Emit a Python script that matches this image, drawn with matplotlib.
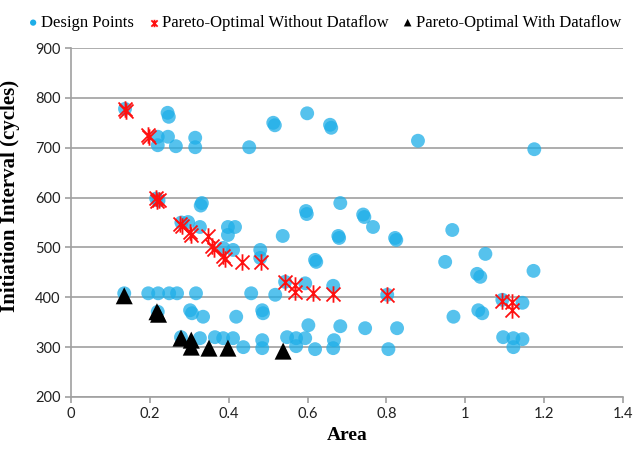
import matplotlib
matplotlib.use("Agg")
import matplotlib.pyplot as plt
from matplotlib.path import Path
import numpy as np

# Design points (Area, Initiation Interval)
design_x = [0.137, 0.245, 0.248, 0.220, 0.220, 0.246, 0.266, 0.315, 0.315, 0.452, 0.513, 0.517,
            0.599, 0.657, 0.660, 0.880, 1.175,
            0.216, 0.222, 0.332, 0.329, 0.596, 0.598, 0.683, 0.741, 0.744, 0.766, 0.967,
            0.537, 0.678, 0.680, 0.822, 0.825, 0.280, 0.297, 0.327, 0.398, 0.416, 0.398,
            0.386, 0.411, 0.480, 0.480, 0.619, 0.622, 0.949, 1.051, 1.030, 1.038, 1.173,
            0.135, 0.196, 0.221, 0.249, 0.269, 0.317, 0.457, 0.518, 0.543, 0.594, 0.665,
            0.802, 1.094, 1.145, 0.302, 0.307, 0.335, 0.419, 0.485, 0.487, 0.220, 0.970,
            1.033, 1.043,
            0.279, 0.327, 0.365, 0.386, 0.411, 0.437, 0.485, 0.485, 0.548, 0.571, 0.594,
            0.571, 0.619, 0.665, 0.667, 0.602, 0.683, 0.746, 0.827, 0.805, 1.096, 1.122,
            1.145, 1.122]
design_y = [778, 770, 762, 722, 705, 722, 703, 720, 701, 701, 750, 745,
            769, 746, 740, 714, 697,
            598, 594, 589, 584, 573, 567, 589, 566, 561, 541, 535,
            523, 523, 519, 519, 515, 550, 551, 541, 541, 541, 525,
            499, 495, 495, 479, 475, 471, 471, 487, 447, 441, 453,
            408, 408, 408, 408, 408, 408, 408, 405, 431, 428, 423,
            405, 395, 389, 374, 368, 361, 361, 374, 368, 371, 361,
            374, 368,
            320, 318, 320, 318, 318, 300, 314, 298, 320, 318, 318,
            302, 296, 298, 314, 344, 342, 338, 338, 296, 320, 318,
            316, 300]

# Pareto-optimal without dataflow
pnd_x = [0.137, 0.140, 0.195, 0.197, 0.216, 0.218, 0.222, 0.277, 0.281, 0.302, 0.305,
         0.348, 0.358, 0.362, 0.386, 0.390, 0.434, 0.482, 0.543, 0.569, 0.569, 0.614,
         0.665, 0.802, 1.094, 1.119, 1.119]
pnd_y = [778, 773, 726, 722, 600, 594, 596, 547, 543, 531, 525,
         523, 502, 496, 482, 477, 471, 471, 430, 425, 411, 408,
         407, 404, 393, 390, 374]

# Pareto-optimal with dataflow
pd_x = [0.135, 0.218, 0.222, 0.279, 0.305, 0.305, 0.350, 0.398, 0.538]
pd_y = [403, 371, 366, 318, 314, 300, 298, 298, 292]

x_ticks = [0, 0.2, 0.4, 0.6, 0.8, 1.0, 1.2, 1.4]
x_tick_labels = ["0", "0.2", "0.4", "0.6", "0.8", "1", "1.2", "1.4"]
y_ticks = [200, 300, 400, 500, 600, 700, 800, 900]

star = Path([(-0.85, -0.85), (0.85, 0.85), (-0.85, 0.85), (0.85, -0.85), (0, -1), (0, 1)],
            [Path.MOVETO, Path.LINETO, Path.MOVETO, Path.LINETO, Path.MOVETO, Path.LINETO])

fig = plt.figure(figsize=(6.35, 4.53), dpi=100)
ax = fig.add_axes([71/635, 1 - 397/453, (623 - 71)/635, (397 - 48)/453])

ax.scatter(design_x, design_y, s=100, color="#1eaee8", alpha=0.75, edgecolors="none",
           label="Design Points", zorder=2)
ax.scatter(pnd_x, pnd_y, s=140, marker=star, color="#ff1010", linewidths=1.3,
           label="Pareto-Optimal Without Dataflow", zorder=3)
ax.scatter(pd_x, pd_y, s=150, marker="^", color="black", edgecolors="none",
           label="Pareto-Optimal With Dataflow", zorder=4)

ax.set_xlim(0, 1.4)
ax.set_ylim(200, 900)
ax.set_xticks(x_ticks)
ax.set_xticklabels(x_tick_labels)
ax.set_yticks(y_ticks)
ax.grid(axis="y", color="#a0a0a0", linewidth=1.2)
ax.set_axisbelow(True)
for s in ["top", "right"]:
    ax.spines[s].set_visible(False)
for s in ["left", "bottom"]:
    ax.spines[s].set_color("#a0a0a0")
    ax.spines[s].set_linewidth(1.2)
ax.tick_params(axis="both", direction="out", length=4, color="#a0a0a0", width=1.2,
               labelsize=10.5, labelcolor="#222222")
for lab in ax.get_xticklabels() + ax.get_yticklabels():
    lab.set_family("Lato")

ax.set_xlabel("Area", family="Liberation Serif", fontweight="bold", fontsize=14, labelpad=4)
ax.set_ylabel("Initiation Interval (cycles)", family="Liberation Serif", fontweight="bold",
              fontsize=15)
ax.yaxis.set_label_coords(-0.093, 0.576)

leg = fig.legend(loc="upper center", bbox_to_anchor=(0.51, 1.0), ncol=3, frameon=False,
                 prop={"family": "Liberation Serif", "size": 12}, markerscale=0.45,
                 handletextpad=0.1, columnspacing=0.75, handlelength=0.8)
for h in leg.legend_handles:
    h.set_alpha(1)

fig.savefig("out.png", dpi=100)
